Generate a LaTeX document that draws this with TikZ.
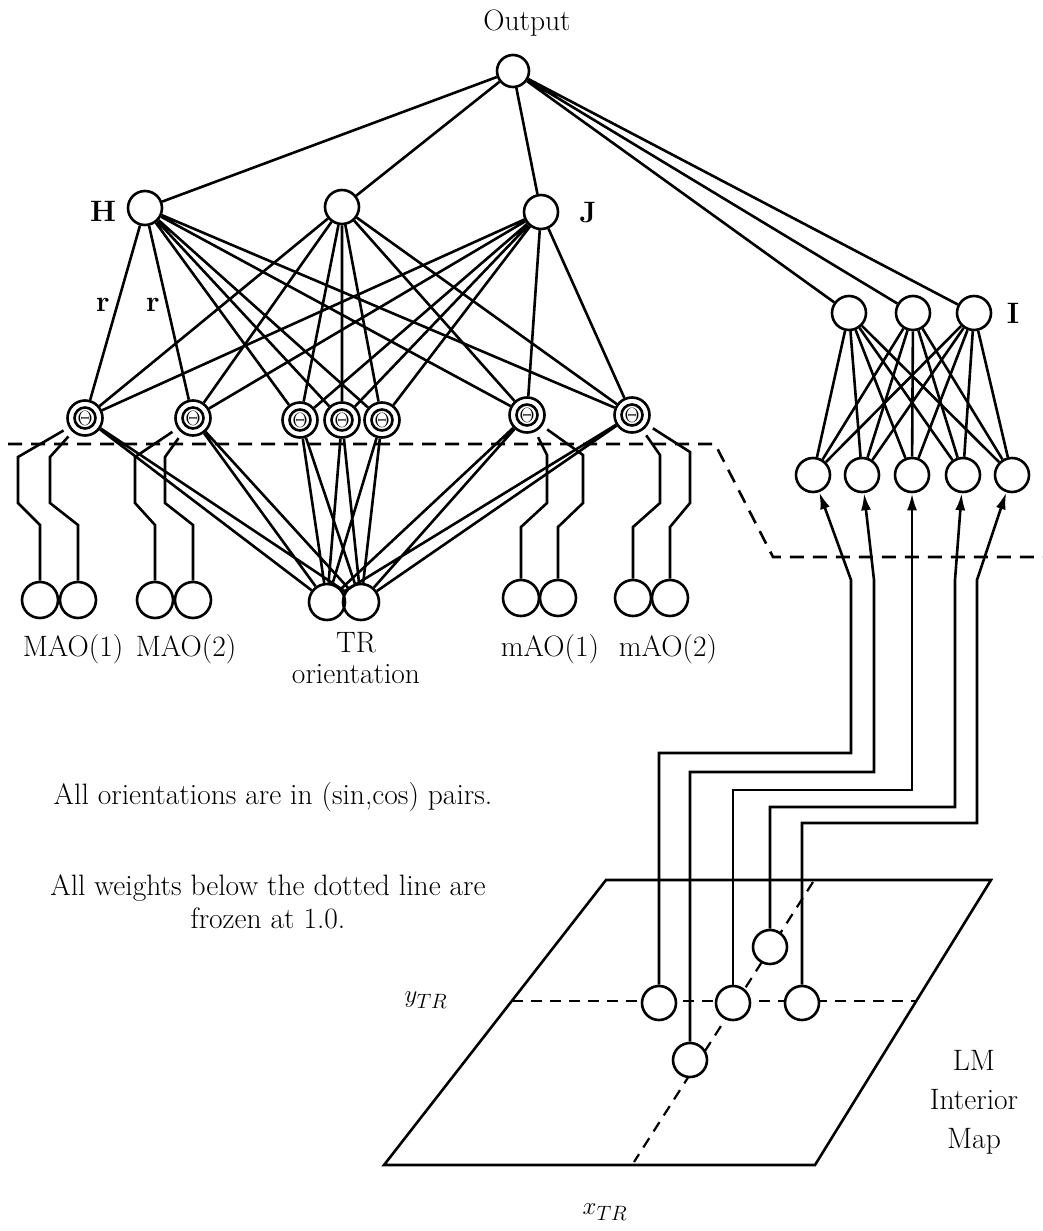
\documentclass[tikz,border=0pt]{standalone}
\usetikzlibrary{arrows.meta}

\begin{document}
\begin{tikzpicture}[x=1pt, y=-1pt, line width=2.6pt, >={Latex[length=17pt,width=10pt]},
  font=\fontsize{29.5}{33}\selectfont,
  unit/.style={draw, circle, minimum size=34pt, inner sep=0pt},
  inp/.style={unit, minimum size=36pt},
  thr/.style={unit, minimum size=35pt, font=\fontsize{20}{20}\selectfont,
    path picture={\draw (path picture bounding box.center) circle (10.5pt);}},
  mapunit/.style={unit, fill=white},
  lab/.style={inner sep=0pt, font=\fontsize{29.5}{33}\selectfont\bfseries},
  cut/.style={dash pattern=on 14pt off 9pt},
  mapdash/.style={line width=2.2pt, dash pattern=on 11pt off 8pt}]
  \useasboundingbox (0,0) rectangle (1043,1231);

  % top of the net
  \node (outlbl) at (527,23) {Output};
  \node[unit, minimum size=32pt] (out) at (513,71) {};
  \node[unit] (hH) at (145,208) {};
  \node[unit] (hM) at (342,207) {};
  \node[unit] (hJ) at (541,212) {};
  \node[lab] (Hlbl) at (103,211) {H};
  \node[lab] (Jlbl) at (588,213) {J};
  \node[lab] (r1) at (103,305) {r};
  \node[lab] (r2) at (153,305) {r};

  \node[thr] (th1) at (85,418) {$\Theta$};
  \node[thr] (th2) at (193,418) {$\Theta$};
  \node[thr] (th3) at (300,420) {$\Theta$};
  \node[thr] (th4) at (342,420) {$\Theta$};
  \node[thr] (th5) at (382,420) {$\Theta$};
  \node[thr] (th6) at (527,415) {$\Theta$};
  \node[thr] (th7) at (632,415) {$\Theta$};

  \draw (out) -- (hH) (out) -- (hM) (out) -- (hJ);
  \draw (hH) -- (th1) (hH) -- (th2) (hH) -- (th3) (hH) -- (th4) (hH) -- (th5) (hH) -- (th6) (hH) -- (th7);
  \draw (hM) -- (th1) (hM) -- (th2) (hM) -- (th3) (hM) -- (th4) (hM) -- (th5) (hM) -- (th6) (hM) -- (th7);
  \draw (hJ) -- (th1) (hJ) -- (th2) (hJ) -- (th3) (hJ) -- (th4) (hJ) -- (th5) (hJ) -- (th6) (hJ) -- (th7);

  % inputs
  \node[inp] (big1a) at (40,600) {};
  \node[inp] (big1b) at (78,600) {};
  \node[inp] (big2a) at (155,600) {};
  \node[inp] (big2b) at (193,600) {};
  \node[inp] (tra) at (327,602) {};
  \node[inp] (trb) at (361,602) {};
  \node[inp] (sml1a) at (521,598) {};
  \node[inp] (sml1b) at (558,598) {};
  \node[inp] (sml2a) at (633,598) {};
  \node[inp] (sml2b) at (670,598) {};
  \node[anchor=base] (big1lbl) at (73,656) {MAO(1)};
  \node[anchor=base] (big2lbl) at (186,656) {MAO(2)};
  \node[align=center, inner sep=0pt, font=\fontsize{29.5}{31}\selectfont] (trlbl) at (356,658) {TR\\orientation};
  \node[anchor=base] (sml1lbl) at (550,656) {mAO(1)};
  \node[anchor=base] (sml2lbl) at (668,656) {mAO(2)};

  \draw[shorten >=6pt] (big1a.north) -- (40,525) -- (18,503) -- (18,457) -- (th1);
  \draw[shorten >=6pt] (big1b.north) -- (78,525) -- (50,503) -- (50,457) -- (th1);
  \draw[shorten >=6pt] (big2a.north) -- (155,525) -- (135,503) -- (135,457) -- (th2);
  \draw[shorten >=6pt] (big2b.north) -- (193,525) -- (165,503) -- (165,457) -- (th2);
  \draw[shorten >=6pt] (sml1a.north) -- (521,527) -- (547,503) -- (547,455) -- (th6);
  \draw[shorten >=6pt] (sml1b.north) -- (558,527) -- (583,503) -- (583,455) -- (th6);
  \draw[shorten >=6pt] (sml2a.north) -- (633,527) -- (660,503) -- (660,455) -- (th7);
  \draw[shorten >=6pt] (sml2b.north) -- (670,527) -- (690,503) -- (690,452) -- (th7);

  \draw (th1) -- (tra) (th1) -- (trb) (th2) -- (tra) (th2) -- (trb) (th3) -- (tra) (th3) -- (trb);
  \draw (th4) -- (tra) (th4) -- (trb) (th5) -- (tra) (th5) -- (trb);
  \draw (th6) -- (tra) (th6) -- (trb) (th7) -- (tra) (th7) -- (trb);

  \draw[cut] (8,444) -- (715,444) -- (773,557) -- (1043,557);

  % right branch
  \node[unit] (iA) at (849,313) {};
  \node[unit] (iB) at (913,313) {};
  \node[unit] (iC) at (974,313) {};
  \node[lab] (Ilbl) at (1013,313) {I};
  \node[unit] (rb1) at (813,475) {};
  \node[unit] (rb2) at (862,475) {};
  \node[unit] (rb3) at (912,475) {};
  \node[unit] (rb4) at (963,475) {};
  \node[unit] (rb5) at (1012,475) {};
  \draw (out) -- (iA) (out) -- (iB) (out) -- (iC);
  \draw (iA) -- (rb1) (iA) -- (rb2) (iA) -- (rb3) (iA) -- (rb4) (iA) -- (rb5);
  \draw (iB) -- (rb1) (iB) -- (rb2) (iB) -- (rb3) (iB) -- (rb4) (iB) -- (rb5);
  \draw (iC) -- (rb1) (iC) -- (rb2) (iC) -- (rb3) (iC) -- (rb4) (iC) -- (rb5);

  % notes
  \node (note1) at (273,797) {All orientations are in (sin,cos) pairs.};
  \node[align=center] (note2) at (268,902) {All weights below the dotted line are\\frozen at 1.0.};

  % interior map
  \draw (606,880) -- (991,880) -- (815,1165) -- (384,1165) -- cycle;
  \draw[mapdash] (512,1001) -- (917,1001);
  \draw[mapdash] (813,882) -- (634,1162);
  \node[mapunit] (mA) at (659,1003) {};
  \node[mapunit] (mB) at (690,1060) {};
  \node[mapunit] (mC) at (733,1003) {};
  \node[mapunit] (mD) at (770,947) {};
  \node[mapunit] (mE) at (802,1003) {};
  \node (ylbl) at (426,1000) {$y_{TR}$};
  \node (xlbl) at (605,1212) {$x_{TR}$};
  \node[align=center, font=\fontsize{29.5}{39}\selectfont] (maplbl) at (974,1102) {LM\\Interior\\Map};

  \draw[->] (mA.north) |- (851,753) -- (851,580) -- (rb1);
  \draw[->] (mB.north) |- (874,772) -- (874,580) -- (rb2);
  \draw[->] (mC.north) |- (912,790) -- (rb3);
  \draw[->] (mD.north) |- (955,807) -- (955,580) -- (rb4);
  \draw[->] (mE.north) |- (977,823) -- (977,580) -- (rb5);
\end{tikzpicture}
\end{document}
